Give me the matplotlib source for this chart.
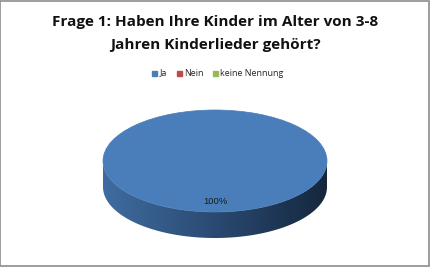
import numpy as np
import matplotlib
matplotlib.use("Agg")
import matplotlib.pyplot as plt
from matplotlib.colors import LinearSegmentedColormap
from matplotlib.patches import Wedge, Polygon, Rectangle
from matplotlib.transforms import Affine2D

# data
categories = ["Ja", "Nein", "keine Nennung"]
values = [100, 0, 0]
labels = ["100%", "", ""]
colors = ["#4a7ebb", "#be4b48", "#98b954"]
side_dark = ["#15273d", "#5a1f1d", "#3e5220"]
side_light = ["#3f6ca0", "#a03e3b", "#7d9a43"]
title_lines = ["Frage 1: Haben Ihre Kinder im Alter von 3-8",
               "Jahren Kinderlieder gehört?"]

W, H = 431, 268
fig = plt.figure(figsize=(W / 100, H / 100), dpi=100)
ax = fig.add_axes([0, 0, 1, 1])
ax.set_xlim(0, W)
ax.set_ylim(H, 0)
ax.set_axis_off()

# chart frame
ax.add_patch(Rectangle((0.5, 0.5), W - 2.5, H - 2.5, fill=False,
                       edgecolor="#8c8c8c", linewidth=1.2))

for y, line in zip([22, 45], title_lines):
    ax.text(215, y, line, ha="center", va="center", fontsize=11,
            fontweight="bold", family="Open Sans", color="#111111")

# legend
leg_x = [152, 177, 213]
for x, c, name in zip(leg_x, colors, categories):
    ax.add_patch(Rectangle((x, 70.5), 5, 5, color=c))
    ax.text(x + 7.5, 73, name, fontsize=6.4, va="center", ha="left",
            family="Open Sans", color="#222222")

cx, cy, rx, ry, depth = 215, 161, 112, 51, 26

# angles from data (start at top, clockwise as in Excel)
total = sum(values)
bounds = np.cumsum([0] + values) / total * 360.0

def pt(t, dy=0):
    return cx + rx * np.cos(t), cy + ry * np.sin(t) + dy

# side: front half of the ellipse (screen y down => sin > 0)
for i, v in enumerate(values):
    if v == 0:
        continue
    a0 = np.deg2rad(bounds[i] - 90)
    a1 = np.deg2rad(bounds[i + 1] - 90)
    ts = np.linspace(a0, a1, 600)
    ts = ts[np.sin(ts) >= 0]
    if len(ts) < 2:
        continue
    top = [pt(t) for t in ts]
    bot = [pt(t, depth) for t in ts[::-1]]
    side = Polygon(top + bot, closed=True, facecolor="none", edgecolor="none")
    ax.add_patch(side)
    cmap = LinearSegmentedColormap.from_list("side", [side_light[i], "#2a4a72" if i == 0 else side_dark[i], side_dark[i]])
    grad = np.linspace(0, 1, 256).reshape(1, -1)
    im = ax.imshow(grad, cmap=cmap, aspect="auto",
                   extent=(cx - rx, cx + rx, cy + ry + depth, cy - 2), zorder=1,
                   interpolation="bilinear")
    im.set_clip_path(side)

# top face
tr = Affine2D().scale(rx, ry).translate(cx, cy) + ax.transData
for i, v in enumerate(values):
    if v == 0:
        continue
    w = Wedge((0, 0), 1, bounds[i] - 90, bounds[i + 1] - 90, zorder=2,
              facecolor=colors[i], edgecolor=colors[i], linewidth=0.5, transform=tr)
    ax.add_patch(w)
    mid = np.deg2rad((bounds[i] + bounds[i + 1]) / 2 - 90)
    if v == total:
        lx, ly = cx, 202
    else:
        lx, ly = pt(mid)
    ax.text(lx, ly, labels[i], ha="center", va="center", fontsize=6.8, zorder=3,
            family="Liberation Sans", color="#1a1a1a")

ax.set_xlim(0, W)
ax.set_ylim(H, 0)
fig.savefig("out.png", dpi=100)
